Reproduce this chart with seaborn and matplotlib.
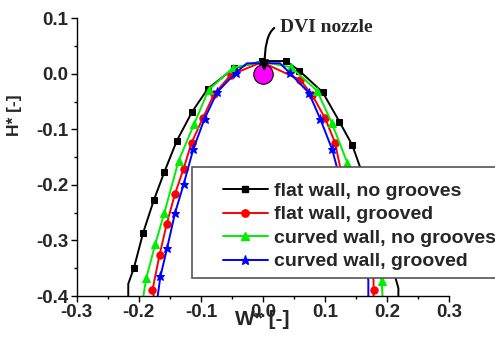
import matplotlib
matplotlib.use('Agg')
import matplotlib.pyplot as plt
import pandas as pd
import seaborn as sns
from matplotlib.lines import Line2D
from matplotlib.patches import Rectangle
from matplotlib.ticker import MultipleLocator

# digitised contours (W*, H*), traced from bottom-left round to bottom-right
flat_w = [-0.217, -0.217, -0.208, -0.193, -0.176, -0.159, -0.139, -0.114, -0.089, -0.047,
          -0.001, 0.037, 0.058, 0.096, 0.123, 0.144, 0.156, 0.214, 0.218, 0.218]
flat_h = [-0.400, -0.378, -0.350, -0.286, -0.228, -0.177, -0.121, -0.068, -0.027, 0.010,
          0.023, 0.023, 0.006, -0.033, -0.086, -0.129, -0.167, -0.370, -0.386, -0.400]
flat_marks = list(range(2, 16))

flatg_w = [-0.176, -0.178, -0.1665, -0.155, -0.142, -0.128, -0.115, -0.097, -0.079, -0.052,
           -0.002, 0.060, 0.079, 0.100, 0.116, 0.124, 0.178, 0.178, 0.178]
flatg_h = [-0.400, -0.389, -0.3255, -0.270, -0.217, -0.171, -0.124, -0.080, -0.037, -0.002,
           0.021, -0.011, -0.038, -0.080, -0.124, -0.167, -0.371, -0.389, -0.400]
flatg_marks = list(range(1, 10)) + list(range(11, 15)) + [17]

curv_w = [-0.1927, -0.188, -0.1734, -0.159, -0.136, -0.111, -0.0876, -0.0478, -0.001,
          0.0451, 0.087, 0.1106, 0.1357, 0.139, 0.191, 0.1924]
curv_h = [-0.400, -0.368, -0.306, -0.2506, -0.157, -0.0905, -0.0286, 0.0109, 0.022,
          0.0118, -0.0304, -0.088, -0.160, -0.167, -0.3725, -0.400]
curv_marks = list(range(1, 8)) + list(range(9, 13)) + [14]

curvg_w = [-0.1696, -0.1652, -0.1543, -0.1417, -0.1277, -0.1122, -0.0942, -0.0738, -0.0443,
           -0.0258, 0.0274, 0.0435, 0.0737, 0.0921, 0.1114, 0.1187, 0.1696, 0.1696]
curvg_h = [-0.400, -0.3647, -0.3132, -0.2506, -0.1984, -0.1353, -0.081, -0.033, 0.0015,
           0.019, 0.019, 0.001, -0.034, -0.081, -0.1362, -0.167, -0.371, -0.400]
curvg_marks = list(range(1, 9)) + list(range(11, 15))

labels = ['flat wall, no grooves', 'flat wall, grooved', 'curved wall, no grooves', 'curved wall, grooved']
nozzle_w, nozzle_h = 0.0, 0.0

sns.set_style('ticks')
plt.rcParams['font.family'] = ['Liberation Sans', 'DejaVu Sans']
plt.rcParams['font.weight'] = 'bold'

fig = plt.figure(figsize=(4.95, 3.4), dpi=100)
ax = fig.add_axes([0.155, 0.1294, 0.7527, 0.8168])

series = [(flat_w, flat_h, flat_marks, 'black', 's', 4.8),
          (flatg_w, flatg_h, flatg_marks, '#ff0000', 'o', 5.3),
          (curv_w, curv_h, curv_marks, '#00ee00', '^', 5.3),
          (curvg_w, curvg_h, curvg_marks, '#0000ff', '*', 6.5)]
handles = []
for (w, h, marks, col, mk, ms), lab in zip(series, labels):
    df = pd.DataFrame({'W': w, 'H': h})
    sns.lineplot(data=df, x='W', y='H', sort=False, estimator=None, color=col, lw=1.4,
                 marker=mk, ms=ms, mec=col, markevery=marks, ax=ax, legend=False)
    handles.append(Line2D([], [], color=col, lw=1.4, marker=mk, ms=ms, mec=col))

ax.plot(nozzle_w, nozzle_h, 'o', color='#ff00ff', mec='black', mew=0.8, ms=14, zorder=4)
ax.annotate('DVI nozzle', xy=(0.002, 0.004), xytext=(0.0274, 0.0748),
            fontsize=14, fontweight='bold', family='Liberation Serif', va='baseline', ha='left',
            arrowprops=dict(arrowstyle='-|>,head_length=0.45,head_width=0.2', color='black', lw=1.5,
                            connectionstyle='angle3,angleA=0,angleB=90', relpos=(0, 0.6),
                            shrinkA=2, shrinkB=0), zorder=6)

ax.set_xlim(-0.3, 0.3)
ax.set_ylim(-0.4, 0.1)
ax.xaxis.set_major_locator(MultipleLocator(0.1))
ax.xaxis.set_minor_locator(MultipleLocator(0.05))
ax.yaxis.set_major_locator(MultipleLocator(0.1))
ax.yaxis.set_minor_locator(MultipleLocator(0.05))
ax.set_xticklabels([f'{v:.1f}' for v in ax.get_xticks()])
ax.set_yticklabels([f'{v:.1f}' for v in ax.get_yticks()])
ax.tick_params(which='major', direction='out', length=4, width=1, labelsize=13.5, pad=2, color='black')
ax.tick_params(which='minor', direction='out', length=2.5, width=1, color='black')
sns.despine(ax=ax)
for s in ['left', 'bottom']:
    ax.spines[s].set_color('black')
    ax.spines[s].set_linewidth(1)

ax.set_xlabel('W* [-]', fontsize=15, fontweight='bold')
ax.xaxis.set_label_coords(0.497, -0.05)
ax.set_ylabel('H* [-]', fontsize=12.5, fontweight='bold')
ax.yaxis.set_label_coords(-0.147, 0.652)

# legend box runs off the right edge of the figure, as in the original
box = Rectangle((0.3094, 0.0637), 1.0, 0.4019, transform=ax.transAxes, facecolor='white',
                edgecolor='#555555', lw=1.2, clip_on=False, zorder=5)
ax.add_patch(box)
leg = ax.legend(handles, labels, loc='center left', bbox_to_anchor=(0.3926, 0.2506), borderaxespad=0,
                fontsize=14, handlelength=2.3, handletextpad=0.3, labelspacing=0.3, borderpad=0,
                frameon=False)
leg.set_zorder(6)

fig.savefig('out.png', dpi=100)
